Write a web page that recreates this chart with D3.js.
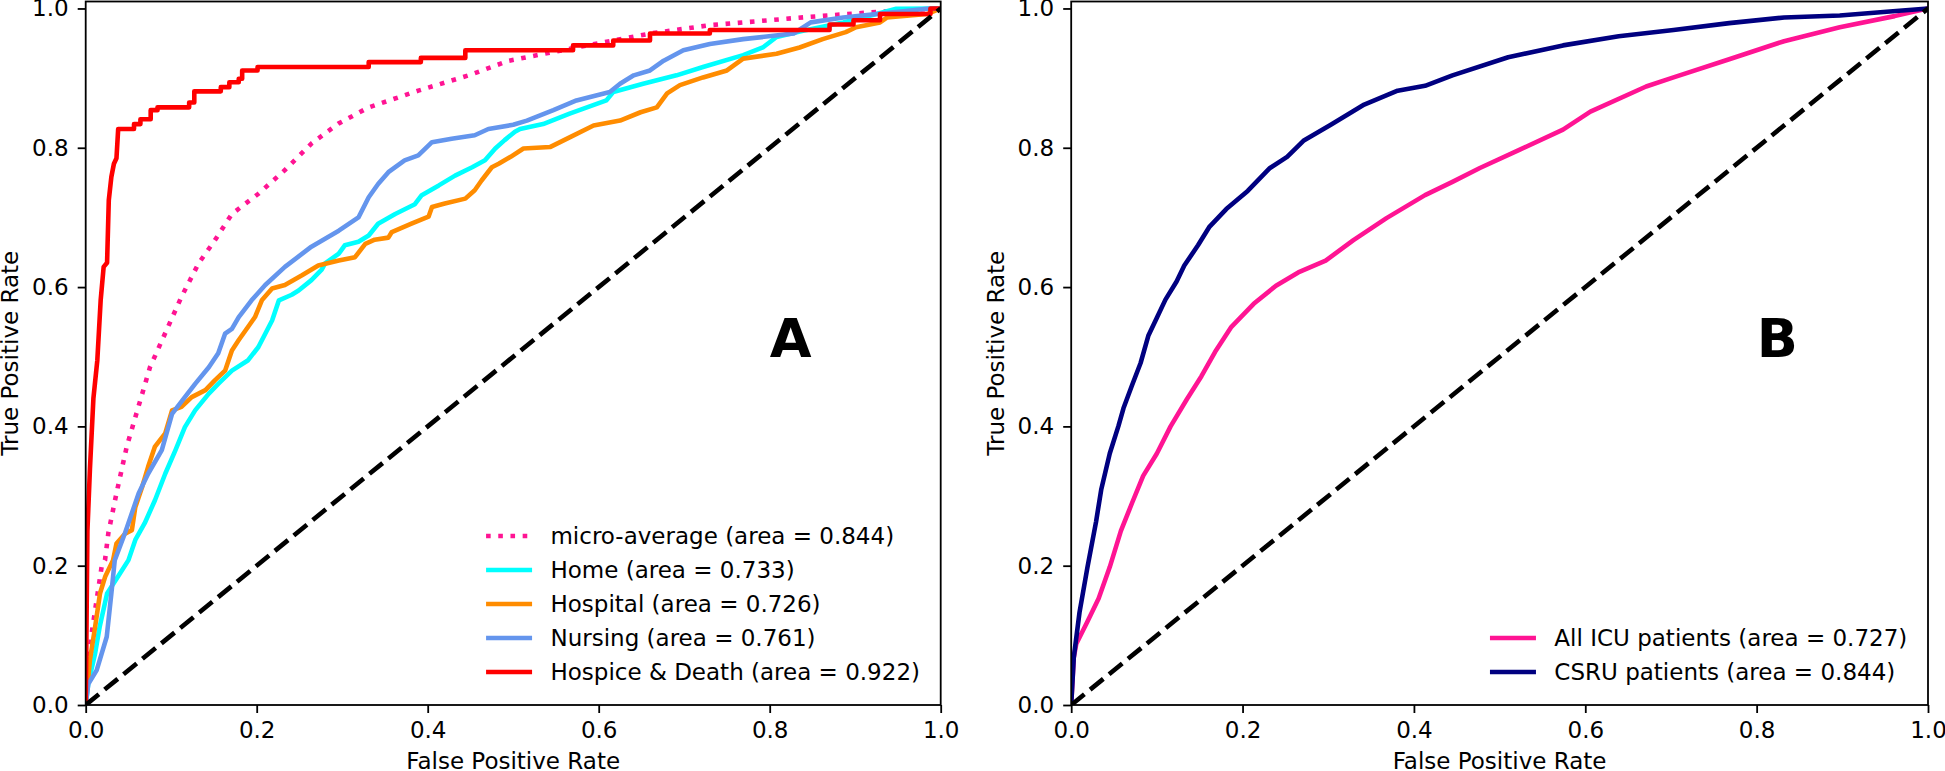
<!DOCTYPE html>
<html><head><meta charset="utf-8">
<script src="https://cdn.jsdelivr.net/npm/d3@7"></script>
<style>
body{margin:0;background:#fff}
svg{display:block}
text{font-family:"DejaVu Sans",sans-serif;fill:#000}
</style>
</head><body>
<svg id="chart" width="1945" height="771"></svg>
<script>
// ---------- data ----------
const tickValues = [0, 0.2, 0.4, 0.6, 0.8, 1.0];
const tickLabels = ["0.0", "0.2", "0.4", "0.6", "0.8", "1.0"];
const diagonal = [[0, 0], [1, 1]];

const namesA = ["micro-average", "Home", "Hospital", "Nursing", "Hospice & Death"];
const aucA = [0.844, 0.733, 0.726, 0.761, 0.922];

const microRoc = [[0,0],[0.003,0.055],[0.007,0.103],[0.0128,0.151],[0.0187,0.199],[0.0226,0.208],[0.0265,0.247],[0.036,0.304],[0.048,0.371],[0.0616,0.428],[0.0752,0.485],[0.0927,0.533],[0.112,0.586],[0.132,0.634],[0.151,0.667],[0.171,0.705],[0.202,0.734],[0.233,0.768],[0.264,0.806],[0.296,0.835],[0.331,0.858],[0.389,0.882],[0.448,0.904],[0.495,0.925],[0.574,0.944],[0.660,0.964],[0.730,0.976],[0.847,0.988],[0.925,0.995],[1,1]];

const homeRoc = [[0,0],[0.003,0.031],[0.011,0.074],[0.0163,0.112],[0.025,0.16],[0.038,0.185],[0.050,0.208],[0.058,0.237],[0.069,0.261],[0.081,0.294],[0.093,0.332],[0.105,0.366],[0.116,0.399],[0.128,0.423],[0.144,0.447],[0.155,0.461],[0.171,0.480],[0.190,0.495],[0.202,0.514],[0.210,0.533],[0.218,0.552],[0.226,0.581],[0.241,0.589],[0.249,0.595],[0.264,0.610],[0.276,0.625],[0.280,0.634],[0.296,0.648],[0.303,0.660],[0.319,0.665],[0.331,0.674],[0.342,0.691],[0.362,0.705],[0.385,0.719],[0.393,0.732],[0.413,0.746],[0.432,0.760],[0.452,0.772],[0.467,0.782],[0.479,0.799],[0.490,0.811],[0.502,0.823],[0.508,0.827],[0.535,0.834],[0.566,0.849],[0.609,0.868],[0.617,0.880],[0.652,0.892],[0.691,0.904],[0.722,0.916],[0.769,0.933],[0.792,0.944],[0.808,0.959],[0.839,0.968],[0.886,0.980],[0.925,0.992],[0.948,0.9995],[1,1]];

const hospitalRoc = [[0,0],[0.005,0.065],[0.011,0.112],[0.0167,0.16],[0.023,0.185],[0.032,0.208],[0.036,0.232],[0.046,0.246],[0.054,0.251],[0.058,0.284],[0.066,0.313],[0.073,0.342],[0.081,0.371],[0.093,0.390],[0.101,0.423],[0.112,0.428],[0.124,0.442],[0.140,0.452],[0.151,0.466],[0.163,0.480],[0.171,0.509],[0.179,0.524],[0.190,0.543],[0.198,0.557],[0.206,0.581],[0.218,0.598],[0.233,0.603],[0.253,0.617],[0.272,0.631],[0.296,0.638],[0.315,0.643],[0.327,0.662],[0.338,0.668],[0.354,0.671],[0.358,0.679],[0.381,0.691],[0.401,0.701],[0.405,0.715],[0.420,0.720],[0.444,0.727],[0.455,0.739],[0.463,0.753],[0.475,0.772],[0.483,0.777],[0.497,0.787],[0.512,0.799],[0.543,0.801],[0.566,0.815],[0.594,0.832],[0.625,0.839],[0.649,0.851],[0.668,0.858],[0.680,0.878],[0.695,0.890],[0.722,0.901],[0.750,0.911],[0.769,0.928],[0.808,0.935],[0.835,0.944],[0.862,0.956],[0.889,0.966],[0.901,0.973],[0.929,0.980],[0.937,0.987],[0.984,0.992],[1,1]];

const nursingRoc = [[0,0],[0.003,0.03],[0.0129,0.05],[0.0246,0.098],[0.030,0.160],[0.034,0.208],[0.046,0.247],[0.062,0.304],[0.073,0.332],[0.089,0.366],[0.101,0.418],[0.116,0.442],[0.128,0.461],[0.144,0.485],[0.155,0.505],[0.163,0.533],[0.171,0.540],[0.179,0.557],[0.194,0.581],[0.210,0.603],[0.233,0.629],[0.264,0.658],[0.296,0.681],[0.319,0.700],[0.331,0.729],[0.342,0.748],[0.354,0.765],[0.373,0.782],[0.389,0.789],[0.405,0.808],[0.428,0.813],[0.455,0.818],[0.471,0.827],[0.500,0.833],[0.516,0.839],[0.547,0.854],[0.574,0.868],[0.613,0.880],[0.625,0.892],[0.641,0.904],[0.660,0.911],[0.676,0.925],[0.699,0.940],[0.730,0.949],[0.769,0.956],[0.828,0.964],[0.848,0.980],[0.886,0.987],[0.925,0.992],[0.984,0.9995],[1,1]];

const hospiceRoc = [[0,0],[0.001,0.12],[0.002,0.25],[0.005,0.34],[0.009,0.44],[0.0136,0.495],[0.0175,0.581],[0.021,0.629],[0.025,0.635],[0.027,0.7245],[0.030,0.758],[0.033,0.777],[0.036,0.785],[0.038,0.827],[0.0565,0.827],[0.0565,0.834],[0.064,0.834],[0.064,0.841],[0.076,0.841],[0.076,0.854],[0.084,0.854],[0.084,0.858],[0.121,0.858],[0.121,0.865],[0.127,0.865],[0.127,0.881],[0.158,0.881],[0.158,0.887],[0.168,0.887],[0.168,0.894],[0.179,0.894],[0.179,0.899],[0.183,0.899],[0.183,0.911],[0.201,0.911],[0.201,0.916],[0.331,0.916],[0.331,0.923],[0.392,0.923],[0.392,0.929],[0.444,0.929],[0.444,0.940],[0.570,0.940],[0.570,0.947],[0.617,0.947],[0.617,0.954],[0.660,0.954],[0.660,0.964],[0.730,0.964],[0.730,0.969],[0.870,0.969],[0.870,0.977],[0.898,0.977],[0.898,0.983],[0.929,0.983],[0.929,0.992],[0.988,0.992],[0.988,1.0],[1,1]];

const namesB = ["All ICU patients", "CSRU patients"];
const aucB = [0.727, 0.844];

const allIcuRoc = [[0,0],[0.003,0.068],[0.006,0.088],[0.019,0.120],[0.032,0.153],[0.045,0.198],[0.058,0.250],[0.071,0.290],[0.084,0.329],[0.100,0.361],[0.116,0.400],[0.135,0.439],[0.152,0.472],[0.168,0.507],[0.187,0.543],[0.213,0.576],[0.239,0.602],[0.265,0.621],[0.297,0.638],[0.329,0.667],[0.368,0.699],[0.413,0.732],[0.445,0.751],[0.477,0.771],[0.523,0.797],[0.574,0.826],[0.606,0.852],[0.671,0.888],[0.703,0.901],[0.768,0.927],[0.832,0.953],[0.897,0.973],[0.961,0.989],[1,1]];

const csruRoc = [[0,0],[0.003,0.068],[0.0097,0.133],[0.019,0.198],[0.029,0.263],[0.035,0.309],[0.045,0.361],[0.055,0.400],[0.061,0.426],[0.071,0.459],[0.081,0.491],[0.090,0.530],[0.100,0.556],[0.110,0.582],[0.123,0.608],[0.132,0.631],[0.148,0.660],[0.161,0.686],[0.181,0.712],[0.206,0.738],[0.232,0.771],[0.252,0.787],[0.271,0.810],[0.303,0.833],[0.342,0.862],[0.381,0.882],[0.413,0.889],[0.445,0.904],[0.510,0.930],[0.574,0.947],[0.639,0.960],[0.703,0.969],[0.768,0.979],[0.832,0.987],[0.897,0.990],[0.948,0.995],[1,1]];

// ---------- drawing ----------
const FS = 23;           // base font size (px)
const LW = 4.6;          // line width
const svg = d3.select("#chart");

function drawPanel(cfg) {
  const g = svg.append("g");
  const x = d3.scaleLinear().domain([0, 1]).range([cfg.left, cfg.right]);
  const y = d3.scaleLinear().domain([0, 1.01]).range([cfg.bottom, cfg.top]);
  const clipId = "clip" + cfg.id;
  svg.append("clipPath").attr("id", clipId).append("rect")
    .attr("x", cfg.left).attr("y", cfg.top)
    .attr("width", cfg.right - cfg.left).attr("height", cfg.bottom - cfg.top);

  const plot = g.append("g").attr("clip-path", `url(#${clipId})`);
  const line = d3.line().x(d => x(d[0])).y(d => y(d[1]));

  cfg.series.forEach(s => {
    plot.append("path").datum(s.data).attr("d", line)
      .attr("fill", "none").attr("stroke", s.color).attr("stroke-width", LW)
      .attr("stroke-linejoin", "round").attr("stroke-linecap", "butt")
      .attr("stroke-dasharray", s.dash || null);
  });
  plot.append("path").datum(diagonal).attr("d", line)
    .attr("fill", "none").attr("stroke", "#000").attr("stroke-width", LW)
    .attr("stroke-dasharray", "17,7.4");

  // axes
  const xAxis = d3.axisBottom(x).tickValues(tickValues)
    .tickFormat((d, i) => tickLabels[i]).tickSize(8).tickPadding(9).tickSizeOuter(0);
  const yAxis = d3.axisLeft(y).tickValues(tickValues)
    .tickFormat((d, i) => tickLabels[i]).tickSize(8).tickPadding(9).tickSizeOuter(0);
  const gx = g.append("g").attr("transform", `translate(0,${cfg.bottom})`).call(xAxis);
  const gy = g.append("g").attr("transform", `translate(${cfg.left},0)`).call(yAxis);
  [gx, gy].forEach(a => {
    a.select(".domain").remove();
    a.selectAll("line").attr("stroke", "#000").attr("stroke-width", 1.8);
    a.selectAll("text").attr("font-size", FS).attr("font-family", "DejaVu Sans").attr("fill", "#000");
  });

  // spines
  g.append("rect").attr("x", cfg.left).attr("y", cfg.top)
    .attr("width", cfg.right - cfg.left).attr("height", cfg.bottom - cfg.top)
    .attr("fill", "none").attr("stroke", "#000").attr("stroke-width", 1.8);

  // axis labels
  g.append("text").attr("x", (cfg.left + cfg.right) / 2).attr("y", 769)
    .attr("text-anchor", "middle").attr("font-size", FS).text("False Positive Rate");
  g.append("text").attr("transform", `translate(${cfg.left - 67.5},${(cfg.top + cfg.bottom) / 2}) rotate(-90)`)
    .attr("text-anchor", "middle").attr("font-size", FS).text("True Positive Rate");

  // panel letter
  g.append("text").attr("x", x(0.8)).attr("y", y(0.5))
    .attr("font-size", 54).attr("font-weight", "bold").text(cfg.letter);

  // legend (lower right, no frame)
  const leg = g.append("g");
  const rowH = 34;
  const n = cfg.series.length;
  const labels = cfg.series.map(s => `${s.name} (area = ${s.auc.toFixed(3)})`);
  const texts = labels.map((t, i) => leg.append("text").attr("font-size", FS).attr("dy", "0.35em").text(t));
  const maxW = d3.max(texts, t => t.node().getComputedTextLength());
  const textX = cfg.right - FS * 0.9 - maxW;
  const lastY = cfg.bottom - 33;
  texts.forEach((t, i) => t.attr("x", textX).attr("y", lastY - (n - 1 - i) * rowH));
  cfg.series.forEach((s, i) => {
    const yy = lastY - (n - 1 - i) * rowH;
    leg.append("line").attr("x1", textX - FS * 0.8 - FS * 2).attr("x2", textX - FS * 0.8)
      .attr("y1", yy).attr("y2", yy).attr("stroke", s.color).attr("stroke-width", LW)
      .attr("stroke-dasharray", s.dash || null);
  });
}

const colorsA = ["#ff1493", "#00ffff", "#ff8c00", "#6495ed", "#ff0000"];
const dataA = [microRoc, homeRoc, hospitalRoc, nursingRoc, hospiceRoc];
drawPanel({
  id: "A", letter: "A", left: 85.7, right: 940.7, top: 1.5, bottom: 705,
  series: namesA.map((nm, i) => ({ name: nm, auc: aucA[i], data: dataA[i], color: colorsA[i], dash: i === 0 ? "4.6,7.6" : null }))
});

const colorsB = ["#ff1493", "#000080"];
const dataB = [allIcuRoc, csruRoc];
drawPanel({
  id: "B", letter: "B", left: 1071.2, right: 1928, top: 1.5, bottom: 705,
  series: namesB.map((nm, i) => ({ name: nm, auc: aucB[i], data: dataB[i], color: colorsB[i] }))
});
</script>
</body></html>
